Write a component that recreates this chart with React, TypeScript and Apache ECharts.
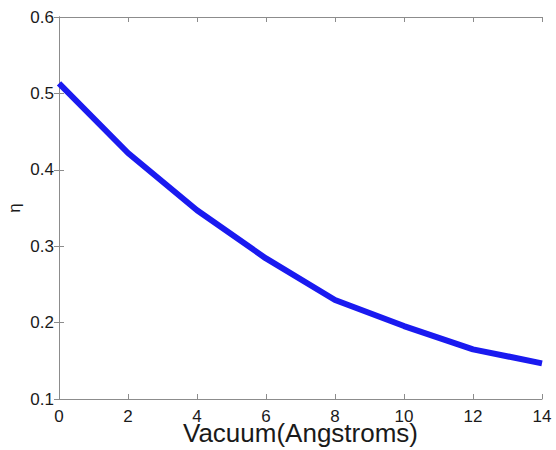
import React, { useEffect, useRef } from "react";
import * as echarts from "echarts";

const xValues = [0, 2, 4, 6, 8, 10, 12, 14];
const etaValues = [0.513, 0.422, 0.347, 0.284, 0.2296, 0.1955, 0.165, 0.1467];
const xTitle = "Vacuum(Angstroms)";
const yTitle = "η";

export default function App() {
  const ref = useRef<HTMLDivElement>(null);
  useEffect(() => {
    const chart = echarts.init(ref.current!, null, { renderer: "svg" });
    const font = "'Liberation Sans', Arial, Helvetica, sans-serif";
    const axisLine = { show: true, lineStyle: { color: "#8c8c8c", width: 1 } };
    const axisTick = { show: true, inside: true, length: 5, lineStyle: { color: "#8c8c8c" } };
    const axisLabel = { color: "#1a1a1a", fontSize: 17, fontFamily: font };
    chart.setOption({
      animation: false,
      backgroundColor: "#ffffff",
      grid: { left: 59, right: 14, top: 17, bottom: 51, containLabel: false, outerBoundsMode: "none" },
      xAxis: [
        {
          type: "value",
          min: 0,
          max: 14,
          interval: 2,
          position: "bottom",
          axisLine,
          axisTick,
          splitLine: { show: false },
          axisLabel: { ...axisLabel, margin: 10, lineHeight: 14 },
          name: xTitle,
          nameLocation: "middle",
          nameGap: 24,
          nameMoveOverlap: false,
          nameTextStyle: { color: "#1a1a1a", fontSize: 26, lineHeight: 20, fontFamily: font, verticalAlign: "top" },
        },
        {
          type: "value",
          min: 0,
          max: 14,
          interval: 2,
          position: "top",
          axisLine,
          axisTick,
          splitLine: { show: false },
          axisLabel: { show: false },
        },
      ],
      yAxis: [
        {
          type: "value",
          min: 0.1,
          max: 0.6,
          interval: 0.1,
          position: "left",
          axisLine,
          axisTick,
          splitLine: { show: false },
          axisLabel: { ...axisLabel, margin: 5, formatter: (v: number) => v.toFixed(1) },
          name: yTitle,
          nameLocation: "middle",
          nameRotate: 90,
          nameGap: 36,
          nameMoveOverlap: false,
          nameTextStyle: { color: "#1a1a1a", fontSize: 17, fontFamily: font },
        },
        {
          type: "value",
          min: 0.1,
          max: 0.6,
          interval: 0.1,
          position: "right",
          axisLine,
          axisTick,
          splitLine: { show: false },
          axisLabel: { show: false },
        },
      ],
      series: [
        {
          type: "line",
          xAxisIndex: 0,
          yAxisIndex: 0,
          data: xValues.map((x, i) => [x, etaValues[i]]),
          showSymbol: false,
          symbol: "none",
          lineStyle: { color: "#1a1af0", width: 6 },
        },
      ],
    });
    return () => chart.dispose();
  }, []);
  return (
    <div
      ref={ref}
      style={{ position: "absolute", left: 0, top: 0, width: 556, height: 450 }}
    />
  );
}
